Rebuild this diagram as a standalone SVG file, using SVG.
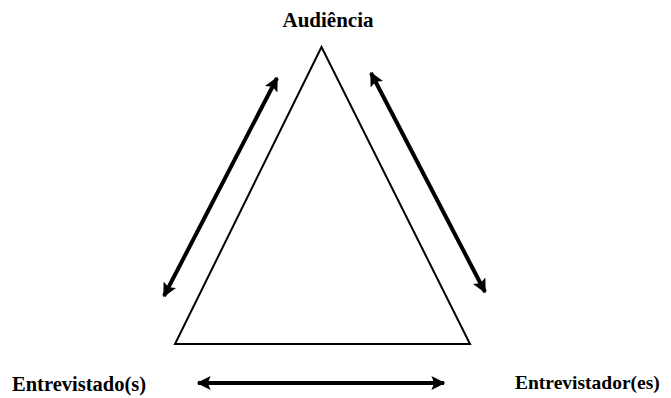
<svg xmlns="http://www.w3.org/2000/svg" width="671" height="398" viewBox="0 0 671 398">
<style>
.lbl{font-family:"Liberation Serif","Times New Roman",serif;font-weight:bold;fill:#000}
.arr{stroke:#000;stroke-width:4;fill:none;marker-start:url(#ah);marker-end:url(#ah)}
</style>
<defs>
<marker id="ah" viewBox="0 0 10 10" refX="9" refY="5" markerWidth="3.8" markerHeight="3.5" orient="auto-start-reverse" markerUnits="strokeWidth">
<path d="M0,0 L10,5 L0,10 L2,5 Z" fill="#000"/>
</marker>
</defs>
<g id="triangle">
<polygon points="321.5,47 175,344 470,344" fill="#fff" stroke="#000" stroke-width="2"/>
</g>
<g id="audiencia"><text class="lbl" x="328" y="27" font-size="21" text-anchor="middle">Audiência</text></g>
<g id="entrevistados"><text class="lbl" x="12" y="391" font-size="20.5">Entrevistado(s)</text></g>
<g id="entrevistadores"><text class="lbl" x="515" y="389" font-size="19.5">Entrevistador(es)</text></g>
<g id="connectors">
<line class="arr" x1="164" y1="296" x2="277" y2="78"/>
<line class="arr" x1="371" y1="73" x2="485" y2="292"/>
<line class="arr" x1="198" y1="383" x2="444" y2="383"/>
</g>
</svg>
